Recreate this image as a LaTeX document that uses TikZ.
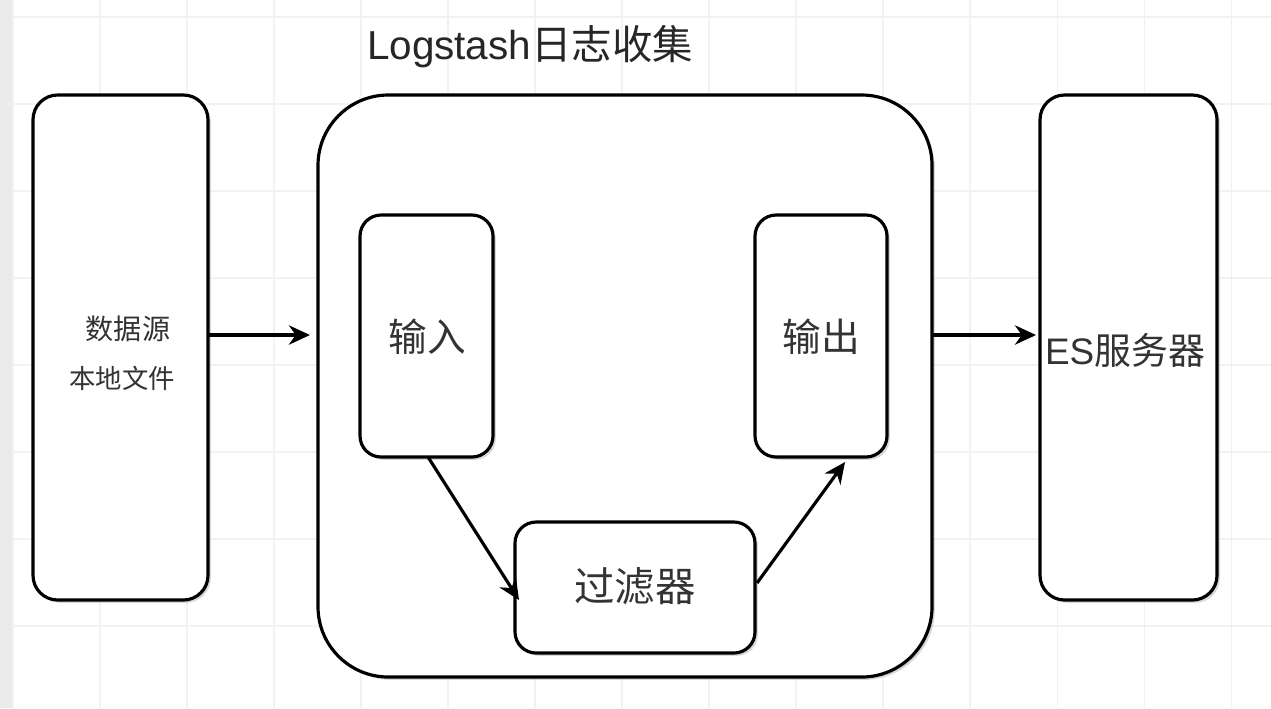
\documentclass[tikz,border=0pt]{standalone}
\usepackage{fontspec}
\setmainfont{Liberation Sans}
\newfontfamily\cjk{Noto Sans CJK SC}
\usetikzlibrary{arrows.meta,shadows}
\begin{document}
\begin{tikzpicture}[x=0.01cm,y=-0.01cm,
  box/.style={draw=black,line width=0.9pt,fill=white,rounded corners=#1,
    drop shadow={shadow xshift=0.8pt,shadow yshift=-0.8pt,opacity=0.3,fill=gray}},
  box/.default=6pt,
  conn/.style={line width=0.9pt,-{Stealth[length=6pt,width=5.5pt]}},
  lbl/.style={font=\cjk\fontsize{11}{13}\selectfont,text=black!80}]
\useasboundingbox (0,0) rectangle (1271,708);
\fill[white] (0,0) rectangle (1271,708);
\fill[black!8] (0,0) rectangle (12,708);
\foreach \x in {13,100,187,274,361,448,535,622,709,796,883,970,1057,1144,1231}
  \draw[black!5,line width=0.3pt] (\x,0) -- (\x,708);
\foreach \y in {17,104,191,278,365,452,539,626}
  \draw[black!5,line width=0.3pt] (13,\y) -- (1271,\y);
% source box
\path[box=7pt] (33,95) rectangle (208,600);
\coordinate (srcE) at (208,335);
\node[font=\cjk\fontsize{8}{10}\selectfont,text=black!80] (t1) at (128,329) {数据源};
\node[font=\cjk\fontsize{7.5}{9}\selectfont,text=black!80] (t2) at (122,378) {本地文件};
% logstash container
\path[box=20pt] (318,95) rectangle (932,677);
\coordinate (lsW) at (310,335);
\coordinate (lsE) at (932,335);
\node[font=\fontsize{11.5}{13}\selectfont,text=black!85] (title) at (530,47) {Logstash{\cjk 日志收集}};
\path[box=6pt] (360,215) rectangle (493,457);
\node[lbl] (in) at (427,337) {输入};
\path[box=6pt] (755,215) rectangle (887,457);
\node[lbl] (out) at (821,337) {输出};
\path[box=6pt] (515,522) rectangle (755,653);
\node[font=\cjk\fontsize{11.5}{13}\selectfont,text=black!80] (flt) at (635,586) {过滤器};
% ES box
\path[box=7pt] (1040,95) rectangle (1217,600);
\coordinate (esW) at (1036,335);
\node[font=\cjk\fontsize{10.5}{12}\selectfont,text=black!80,inner sep=0pt] (es) at (1125,350) {{\fontspec{Liberation Sans}ES}服务器};
\coordinate (inB) at (428,457);
\coordinate (fltW) at (519,600);
\coordinate (fltE) at (757,583);
\coordinate (outB) at (845,462);
\draw[conn] (srcE) -- (lsW);
\draw[conn] (lsE) -- (esW);
\draw[conn] (inB) -- (fltW);
\draw[conn] (fltE) -- (outB);
\end{tikzpicture}
\end{document}
